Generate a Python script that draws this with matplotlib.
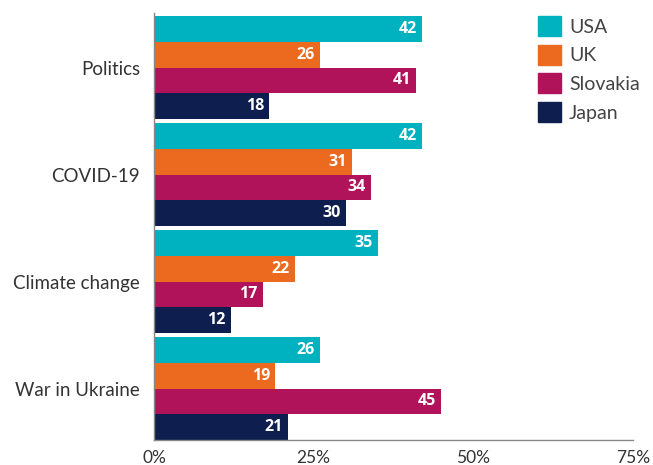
import matplotlib.pyplot as plt
import numpy as np
from matplotlib.patches import Patch

# données
categories = ["Politics", "COVID-19", "Climate change", "War in Ukraine"]
countries = ["USA", "UK", "Slovakia", "Japan"]
usa = [42, 42, 35, 26]
uk = [26, 31, 22, 19]
slovakia = [41, 34, 17, 45]
japan = [18, 30, 12, 21]
xticks = [0, 25, 50, 75]
xtick_labels = ["0%", "25%", "50%", "75%"]

colors = ["#00B2BF", "#EB6A1F", "#B0135A", "#0E1F4F"]
series = [usa, uk, slovakia, japan]

plt.rcParams["font.family"] = ["Lato", "DejaVu Sans"]

fig = plt.figure(figsize=(6.53, 4.65), dpi=100)
ax = fig.add_axes([154 / 653, 25 / 465, 479 / 653, 427 / 465])

h = 0.24
y = np.arange(len(categories))
for i, (vals, col) in enumerate(zip(series, colors)):
    pos = y - 0.36 + i * h
    ax.barh(pos, vals, height=h, color=col)
    for p, v in zip(pos, vals):
        ax.text(v - 0.8, p, str(v), ha="right", va="center", color="white",
                fontsize=11.5, fontweight="bold", family=["Open Sans", "DejaVu Sans"])

ax.set_xlim(0, 75)
ax.set_ylim(3.48, -0.51)
ax.set_yticks(y)
ax.set_yticklabels(categories, fontsize=13.5, color="#333333")
ax.set_xticks(xticks)
ax.set_xticklabels(xtick_labels, fontsize=12.5, color="#333333")
ax.tick_params(axis="y", length=0, pad=10)
ax.tick_params(axis="x", length=0, pad=7)
for s in ["top", "right"]:
    ax.spines[s].set_visible(False)
for s in ["left", "bottom"]:
    ax.spines[s].set_color("#888888")
    ax.spines[s].set_linewidth(1)

handles = [Patch(color=c, label=n) for c, n in zip(colors, countries)]
fig.legend(handles=handles, loc="upper left", bbox_to_anchor=(538 / 653, 1 - 16 / 465),
           frameon=False, fontsize=14, handlelength=1.2, handleheight=1.2,
           handletextpad=0.4, labelspacing=0.45, borderpad=0, borderaxespad=0,
           labelcolor="#444444")

fig.savefig("out.png", dpi=100)
